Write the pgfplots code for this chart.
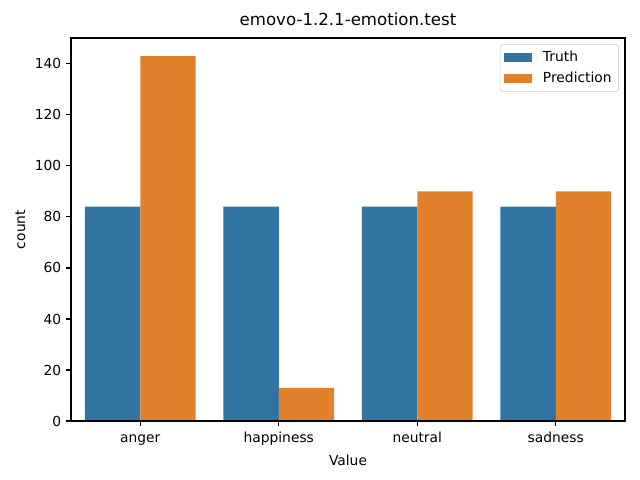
\documentclass[border=0pt]{standalone}
\usepackage{pgfplots}
\pgfplotsset{compat=1.18}
\usepackage{fontspec}
\setmainfont{DejaVu Sans}
\definecolor{sbblue}{HTML}{3274A1}
\definecolor{sborange}{HTML}{E1812C}
\begin{document}
\begin{tikzpicture}[x=1in,y=1in]
\path[use as bounding box] (-0.71,-0.59) rectangle (5.69,4.21);
\begin{axis}[at={(0,0)},anchor=south west, scale only axis,
 width=5.54in, height=3.83in,
 xmin=-0.5,xmax=3.5,ymin=0,ymax=150.15,
 xtick={0,1,2,3}, xticklabels={anger,happiness,neutral,sadness},
 ytick={0,20,...,140},
 /pgf/number format/assume math mode=true,
 xticklabel style={text height=1.6ex, text depth=0.3ex},
 tick align=outside, tick pos=left, major tick length=3.5pt,
 every tick/.style={line width=0.8pt, black},
 axis line style={line width=0.8pt},
 axis on top,
 title={emovo-1.2.1-emotion.test},
 title style={font=\large, yshift=-1pt},
 xlabel={Value}, ylabel={count},
 legend style={at={(0.989,0.984)}, anchor=north east, draw=black!20, rounded corners=2pt,
   font=\normalsize, row sep=2pt, inner sep=3pt},
 legend cell align=left,
 legend image code/.code={\fill[#1, sharp corners] (0pt,-3.5pt) rectangle (20pt,3.5pt); \path (0pt,0pt) -- (26pt,0pt);},
]
\addplot[ybar, bar width=0.4, bar shift=-0.2, fill=sbblue, draw=none] coordinates {(0,84) (1,84) (2,84) (3,84)};
\addlegendentry{Truth}
\addplot[ybar, bar width=0.4, bar shift=0.2, fill=sborange, draw=none] coordinates {(0,143) (1,13) (2,90) (3,90)};
\addlegendentry{Prediction}
\end{axis}
\end{tikzpicture}
\end{document}
